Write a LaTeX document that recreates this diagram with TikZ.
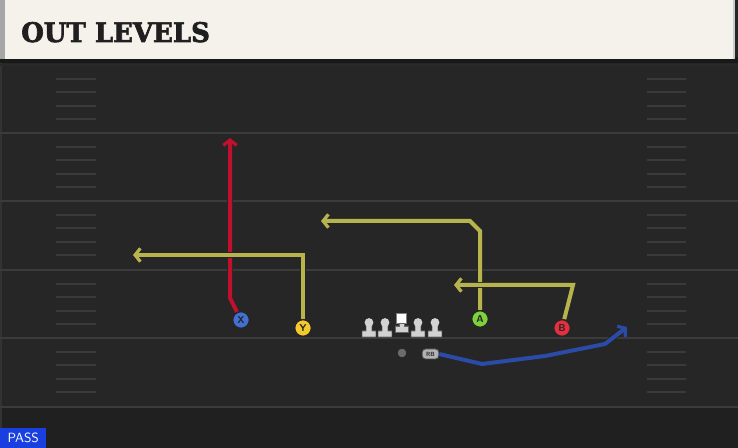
\documentclass[tikz,border=0pt]{standalone}
\usepackage{fontspec}
\setmainfont{DejaVu Sans}
\newfontfamily\titlefont{DejaVu Serif}[BoldFont={DejaVu Serif Bold}, BoldFeatures={FakeBold=2.5}]
\usetikzlibrary{arrows.meta}
\definecolor{bg}{HTML}{262626}
\definecolor{cream}{HTML}{F4F2EB}
\definecolor{yardline}{HTML}{3B3B3B}
\definecolor{hashc}{HTML}{3A3A3A}
\definecolor{rtred}{HTML}{C0102E}
\definecolor{rtyel}{HTML}{B7B44E}
\definecolor{rtblue}{HTML}{2A4BA6}
\definecolor{plX}{HTML}{4170D2}
\definecolor{plY}{HTML}{F3C92E}
\definecolor{plA}{HTML}{7DD23B}
\definecolor{plB}{HTML}{E2303E}
\definecolor{linec}{HTML}{D2D2D2}
\definecolor{passblue}{HTML}{1A3FE0}
\tikzset{
  route/.style={line width=3pt, line join=miter, -{Straight Barb[length=4pt,width=10pt,line width=2.4pt]},
     preaction={draw=black!85, line width=4.2pt, -{Straight Barb[length=4pt,width=10pt,line width=3.2pt]}}},
  player/.style={circle, draw=black!85, line width=1pt, minimum size=12.5pt, inner sep=0pt,
     font=\sffamily\bfseries\fontsize{7.5}{7.5}\selectfont, text=black!85},
  hashm/.style={draw=hashc, line width=1.6pt},
  yard/.style={draw=yardline, line width=1.6pt},
  lman/.style={fill=linec, draw=black!60, line width=0.4pt},
}
\begin{document}
\begin{tikzpicture}[x=0.75pt,y=-0.75pt]
\useasboundingbox (0,0) rectangle (738,448);
\fill[bg] (0,0) rectangle (738,448);
\fill[bg!85!black] (0,408) rectangle (738,448);
% left field edge
\fill[black!60!gray] (0,60) rectangle (2,448);
% yard lines
\foreach \yy in {133,201,270,338,407} \draw[yard] (0,\yy) -- (738,\yy);
\draw[draw=black!30!yardline,line width=1.6pt] (0,65) -- (738,65);
% hash marks
\foreach \b in {65,133,201,270,338} {
  \foreach \k in {1,2,3,4} {
    \draw[hashm] (56,\b+\k*13.6) -- (96,\b+\k*13.6);
    \draw[hashm] (647,\b+\k*13.6) -- (686,\b+\k*13.6);
  }
}
% header
\fill[black!90] (0,57) rectangle (738,63);
\fill[cream] (0,0) rectangle (735,59);
\fill[gray!70] (0,0) rectangle (5,59);
\fill[black!20] (733,0) rectangle (735,59);
\node[anchor=base west, inner sep=0pt, text=black!88] (title) at (21,42)
  {\resizebox{141.5pt}{15pt}{\titlefont\bfseries OUT LEVELS}};
% players
\node[player, fill=plX] (X) at (241,320) {X};
\node[player, fill=plY] (Y) at (303,328) {Y};
\node[player, fill=plA] (A) at (480,319) {A};
\node[player, fill=plB] (B) at (562,328) {B};
% offensive line
\foreach \lx [count=\i] in {369,385,418,435} {
  \path[lman] (\lx-2.8,323) -- (\lx-2.8,331) -- (\lx-6.8,331) -- (\lx-6.8,337) -- (\lx+6.8,337)
     -- (\lx+6.8,331) -- (\lx+2.8,331) -- (\lx+2.8,323) arc (0:180:2.8) -- cycle;
  \fill[linec] (\lx,322.5) circle (4.4);
}
\node[draw=black!50, fill=white, minimum size=7.5pt, inner sep=0pt] (C) at (401.5,318) {};
\path[lman] (399,323) -- (399,326) -- (395,326) -- (395,332) -- (408,332) -- (408,326) -- (404,326) -- (404,323) -- cycle;
\node[circle, fill=gray!85!black, draw=black!60, minimum size=6pt, inner sep=0pt] (QB) at (402,353) {};
\node[rounded corners=2.5pt, fill=gray!60, draw=black!70, line width=0.6pt, minimum width=12.5pt, minimum height=7.5pt, inner sep=0pt,
  font=\sffamily\bfseries\fontsize{4.5}{4.5}\selectfont, text=black!85] (RB) at (430.5,354) {RB};
% route points
\coordinate (x1) at (230,298);
\coordinate (x2) at (230,138);
\coordinate (y1) at (303,255);
\coordinate (y2) at (133,255);
\coordinate (a1) at (480,231);
\coordinate (a2) at (470,221);
\coordinate (a3) at (321,221);
\coordinate (b1) at (573,285);
\coordinate (b2) at (454,285);
\coordinate (r1) at (482,364);
\coordinate (r2) at (545,356);
\coordinate (r3) at (605,344);
\coordinate (r4) at (627,327);
% routes
\draw[route, rtred] (X) -- (x1) -- (x2);
\draw[route, rtyel] (Y) -- (y1) -- (y2);
\draw[route, rtyel] (A) -- (a1) -- (a2) -- (a3);
\draw[route, rtyel] (B) -- (b1) -- (b2);
\draw[route, rtblue, line join=round] (RB.east) -- (r1) -- (r2) -- (r3) -- (r4);
% redraw players on top
\node[player, fill=plX] at (X) {X};
\node[player, fill=plY] at (Y) {Y};
\node[player, fill=plA] at (A) {A};
\node[player, fill=plB] at (B) {B};
% pass label
\node[anchor=south west, fill=passblue, text=white, inner sep=0pt, minimum width=34.5pt, minimum height=15pt,
  font=\sffamily\fontsize{10}{10}\selectfont] (pass) at (0,448) {PASS};
\end{tikzpicture}
\end{document}
